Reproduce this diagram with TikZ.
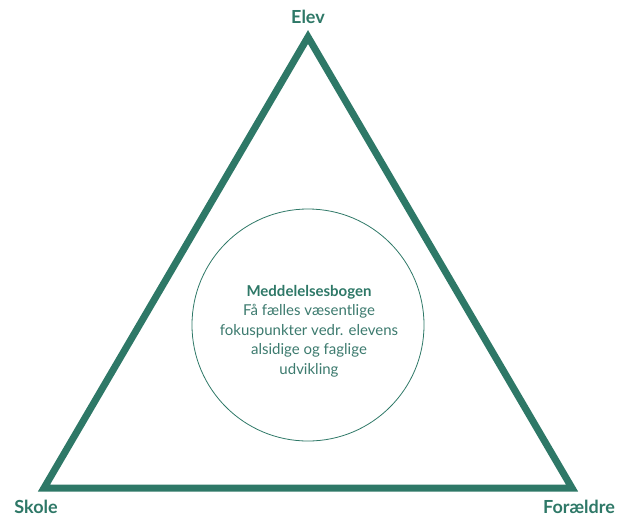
\documentclass[tikz,border=0pt]{standalone}
\usepackage{fontspec}
\setmainfont{Lato}
\definecolor{groen}{RGB}{46,120,103}
\definecolor{groentekst}{RGB}{60,122,110}

\begin{document}
\begin{tikzpicture}[x=1pt, y=-1pt, thick]
		\tikzstyle{ramme}=[draw=groen, line width=7pt, line join=miter]
		\tikzstyle{hjoerne}=[text=groen, font=\fontsize{18}{20}\selectfont\bfseries, inner sep=0pt]
		\tikzstyle{midte}=[circle, draw=groen, line width=0.8pt, minimum size=232pt, inner sep=0pt]
		
		\useasboundingbox (0,0) rectangle (620,517);
		
		% Trekantens hjørner
		\coordinate (top) at (308,37);
		\coordinate (venstre) at (44,488);
		\coordinate (hoejre) at (572,488);
		
		\draw[ramme] (top) -- (venstre) -- (hoejre) -- cycle;
		
		% Navne ved hjørnerne
		\node[hjoerne] (elev) at (308,17) {Elev};
		\node[hjoerne] (skole) at (36,507) {Skole};
		\node[hjoerne] (foraeldre) at (579,507) {Forældre};
		
		% Cirklen i midten
		\node[midte] (bog) at (308,325) {};
		\node[text=groentekst, align=center, font=\fontsize{15}{19.5}\selectfont] (tekst) at (309,331)
			{{\bfseries\color{groen}Meddelelsesbogen}\\Få fælles væsentlige\\fokuspunkter vedr. elevens\\alsidige og faglige\\udvikling};
		
	\end{tikzpicture}
\end{document}
